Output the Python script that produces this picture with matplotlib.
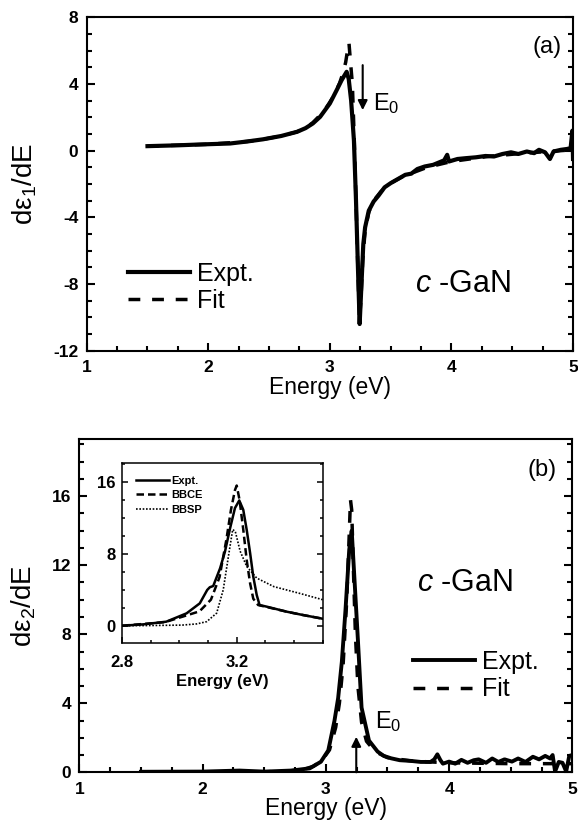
import matplotlib
matplotlib.use('Agg')
import matplotlib.pyplot as plt
from matplotlib.ticker import MultipleLocator

plt.rcParams['font.family'] = ['Liberation Sans', 'DejaVu Sans']
plt.rcParams['mathtext.fontset'] = 'custom'
plt.rcParams['mathtext.rm'] = 'Liberation Sans'
plt.rcParams['mathtext.it'] = 'Liberation Sans:italic'
plt.rcParams['mathtext.bf'] = 'Liberation Sans:bold'
plt.rcParams['axes.unicode_minus'] = False

# ---- panel (a): d eps1 / dE ----
e1_expt_E = [1.5, 1.75, 1.93, 2.18, 2.32, 2.45, 2.6, 2.73, 2.8, 2.86, 2.92, 3.0, 3.056,
             3.097, 3.138, 3.155, 3.175, 3.198, 3.215, 3.23, 3.245, 3.26, 3.275, 3.29,
             3.32, 3.36, 3.40, 3.45, 3.50, 3.56, 3.62, 3.67, 3.72, 3.78, 3.85, 3.90,
             3.94, 3.965, 3.98, 4.05, 4.12, 4.20, 4.28, 4.35, 4.42, 4.49, 4.55, 4.62,
             4.68, 4.72, 4.77, 4.81, 4.84, 4.90, 4.95, 4.98, 4.995, 5.0]
e1_expt = [0.27, 0.32, 0.37, 0.43, 0.55, 0.68, 0.88, 1.13, 1.35, 1.63, 2.03, 2.83, 3.63,
           4.23, 4.73, 4.3, 3.0, 0.6, -3.0, -6.8, -10.4, -8.0, -5.6, -4.6,
           -3.6, -3.05, -2.7, -2.2, -1.95, -1.7, -1.45, -1.38, -1.1, -0.95, -0.85, -0.7,
           -0.58, -0.25, -0.65, -0.5, -0.45, -0.4, -0.32, -0.35, -0.2, -0.1, -0.2, -0.05,
           -0.15, 0.05, -0.1, -0.5, -0.05, 0.05, 0.1, 0.15, 1.2, -0.5]

e1_fit_E = [1.5, 2.0, 2.32, 2.45, 2.6, 2.73, 2.8, 2.86, 2.95, 3.03, 3.08, 3.11, 3.13,
            3.145, 3.157, 3.17, 3.185, 3.2, 3.215, 3.23, 3.243, 3.255, 3.27, 3.29, 3.32,
            3.36, 3.42, 3.5, 3.6, 3.8, 4.0, 4.3, 4.6, 5.0]
e1_fit = [0.27, 0.38, 0.55, 0.68, 0.88, 1.13, 1.36, 1.68, 2.35, 3.25, 4.05, 4.7, 5.3,
          6.0, 6.47, 5.3, 4.0, 0.8, -3.0, -7.0, -10.2, -9.0, -6.6, -4.8, -3.7,
          -3.0, -2.45, -1.95, -1.55, -1.0, -0.65, -0.35, -0.15, 0.05]

# ---- panel (b): d eps2 / dE ----
e2_expt_E = [1.5, 2.0, 2.3, 2.5, 2.72, 2.87, 2.96, 3.02, 3.07, 3.10, 3.13, 3.16,
             3.19, 3.21, 3.23, 3.26, 3.29, 3.35, 3.42, 3.47, 3.53, 3.6, 3.69, 3.77,
             3.85, 3.88, 3.905, 3.93, 3.95, 4.0, 4.05, 4.1, 4.15, 4.2, 4.24, 4.3,
             4.35, 4.4, 4.45, 4.51, 4.56, 4.62, 4.68, 4.73, 4.78, 4.82, 4.84, 4.86,
             4.89, 4.92, 4.95, 4.975, 5.0]
e2_expt = [0.03, 0.04, 0.1, 0.04, 0.1, 0.23, 0.61, 1.27, 2.98, 4.3, 6.4, 9.45,
           12.9, 14.0, 11.5, 7.7, 3.75, 1.84, 1.2, 0.95, 0.81, 0.7, 0.66, 0.6,
           0.6, 0.75, 1.04, 0.7, 0.5, 0.62, 0.5, 0.72, 0.55, 0.7, 0.75, 0.55,
           0.8, 0.6, 0.75, 0.62, 0.8, 0.6, 0.9, 0.75, 0.95, 0.8, 1.0, 0.05,
           0.6, 0.55, 0.05, 0.95, 1.0]

e2_fit_E = [1.5, 2.5, 2.8, 2.9, 2.97, 3.03, 3.08, 3.11, 3.14, 3.17, 3.19, 3.2,
            3.21, 3.225, 3.24, 3.26, 3.29, 3.33, 3.4, 3.5, 3.7, 4.0, 4.5, 5.0]
e2_fit = [0.0, 0.02, 0.12, 0.35, 0.7, 1.3, 2.6, 4.0, 6.2, 10.0, 13.8, 15.8,
          15.2, 11.5, 8.0, 5.0, 2.9, 1.8, 1.2, 0.85, 0.65, 0.55, 0.5, 0.5]

# ---- inset ----
ins_expt_E = [2.8, 2.873, 2.954, 3.025, 3.071, 3.097, 3.106, 3.118, 3.142, 3.159,
              3.177, 3.194, 3.209, 3.223, 3.235, 3.247, 3.258, 3.27, 3.28, 3.305,
              3.375, 3.43, 3.5]
ins_expt = [0.0, 0.15, 0.45, 1.38, 2.49, 3.98, 4.28, 4.42, 6.39, 8.25,
            10.86, 13.1, 13.94, 12.9, 10.67, 8.07, 5.46, 3.42, 2.3, 2.12,
            1.56, 1.2, 0.78]

ins_bbce_E = [2.8, 2.95, 3.02, 3.07, 3.11, 3.14, 3.164, 3.18, 3.194, 3.2, 3.21,
              3.223, 3.235, 3.247, 3.258, 3.275, 3.3, 3.375, 3.43, 3.5]
ins_bbce = [0.0, 0.4, 1.1, 1.6, 2.9, 5.4, 9.6, 12.9, 15.1, 15.6, 14.0,
            10.7, 7.3, 4.7, 3.0, 2.3, 2.12, 1.56, 1.2, 0.78]

ins_bbsp_E = [2.8, 2.9, 3.01, 3.06, 3.095, 3.13, 3.153, 3.171, 3.186, 3.195,
              3.212, 3.235, 3.27, 3.33, 3.42, 3.5]
ins_bbsp = [0.0, 0.02, 0.07, 0.2, 0.45, 1.4, 4.0, 7.7, 10.7, 10.5,
            8.3, 6.6, 5.3, 4.35, 3.6, 2.9]

BLACK = 'k'


def style_axes(ax, xmajor, xminor, ymajor, yminor, size, pad_x, pad_y, lw):
    ax.xaxis.set_major_locator(MultipleLocator(xmajor))
    ax.xaxis.set_minor_locator(MultipleLocator(xminor))
    ax.yaxis.set_major_locator(MultipleLocator(ymajor))
    ax.yaxis.set_minor_locator(MultipleLocator(yminor))
    ax.tick_params(which='both', direction='in', right=True, top=False, width=lw)
    ax.tick_params(which='major', length=6)
    ax.tick_params(which='minor', length=3.5)
    ax.tick_params(axis='x', labelsize=size, pad=pad_x)
    ax.tick_params(axis='y', labelsize=size, pad=pad_y)
    for s in ax.spines.values():
        s.set_linewidth(lw)
    plt.setp(ax.get_xticklabels(), fontweight='bold')
    plt.setp(ax.get_yticklabels(), fontweight='bold')


fig = plt.figure(figsize=(5.78, 8.35), dpi=100)

# panel (a)
ax1 = fig.add_axes([0.150, 0.580, 0.8414, 0.3993])
ax1.plot(e1_expt_E, e1_expt, color=BLACK, lw=3.0, label='Expt.')
ax1.plot(e1_fit_E, e1_fit, color=BLACK, lw=2.5, dashes=(3.4, 3.4), label='Fit')
ax1.set_xlim(1, 5)
ax1.set_ylim(-12, 8)
style_axes(ax1, 1, 0.25, 4, 1, 12.5, 7, 6, 1.5)
ax1.set_xlabel('Energy (eV)', fontsize=16.5)
ax1.xaxis.set_label_coords(0.5, -0.075)
ax1.set_ylabel('dε$_1$/dE', fontsize=20)
ax1.yaxis.set_label_coords(-0.098, 0.5)
ax1.legend(loc='center left', bbox_to_anchor=(0.085, 0.19), frameon=False,
           fontsize=18, handlelength=2.48, handletextpad=0.27, labelspacing=0.12,
           borderpad=0, borderaxespad=0)
ax1.annotate('', xy=(3.27, 2.43), xytext=(3.27, 5.13),
             arrowprops=dict(arrowstyle='-|>', color=BLACK, lw=1.5,
                             mutation_scale=14, shrinkA=0, shrinkB=0))
ax1.text(3.357, 2.85, 'E$_0$', fontsize=17, ha='left', va='center')
ax1.text(0.774, 0.2, '$c$ -GaN', fontsize=22, ha='center', va='center',
         transform=ax1.transAxes)
ax1.text(0.9475, 0.912, '(a)', fontsize=17, ha='center', va='center',
         transform=ax1.transAxes)

# panel (b)
ax2 = fig.add_axes([0.1372, 0.0751, 0.853, 0.3988])
ax2.plot(e2_expt_E, e2_expt, color=BLACK, lw=2.8, label='Expt.')
ax2.plot(e2_fit_E, e2_fit, color=BLACK, lw=2.5, dashes=(3.4, 3.4), label='Fit')
ax2.set_xlim(1, 5)
ax2.set_ylim(0, 19.3)
style_axes(ax2, 1, 0.25, 4, 1, 12.5, 7, 6, 1.5)
ax2.set_xlabel('Energy (eV)', fontsize=16.5)
ax2.xaxis.set_label_coords(0.5, -0.075)
ax2.set_ylabel('dε$_2$/dE', fontsize=20)
ax2.yaxis.set_label_coords(-0.084, 0.5)
ax2.legend(loc='center left', bbox_to_anchor=(0.677, 0.291), frameon=False,
           fontsize=18, handlelength=2.48, handletextpad=0.27, labelspacing=0.15,
           borderpad=0, borderaxespad=0)
ax2.annotate('', xy=(3.247, 2.06), xytext=(3.247, 0),
             arrowprops=dict(arrowstyle='-|>', color=BLACK, lw=1.5,
                             mutation_scale=14, shrinkA=0, shrinkB=0))
ax2.text(3.40, 2.93, 'E$_0$', fontsize=17, ha='left', va='center')
ax2.text(0.7815, 0.568, '$c$ -GaN', fontsize=22, ha='center', va='center',
         transform=ax2.transAxes)
ax2.text(0.9376, 0.908, '(b)', fontsize=17, ha='center', va='center',
         transform=ax2.transAxes)

# inset
ax3 = fig.add_axes([0.2115, 0.2302, 0.3465, 0.2152])
ax3.plot(ins_expt_E, ins_expt, color=BLACK, lw=1.8, label='Expt.')
ax3.plot(ins_bbce_E, ins_bbce, color=BLACK, lw=1.8, dashes=(3.0, 1.6), label='BBCE')
ax3.plot(ins_bbsp_E, ins_bbsp, color=BLACK, lw=1.2, dashes=(1.0, 1.0), label='BBSP')
ax3.set_xlim(2.8, 3.5)
ax3.set_ylim(-1.9, 18.1)
style_axes(ax3, 0.4, 0.1, 8, 2, 12, 9, 4.5, 1.1)
ax3.tick_params(which='major', length=4.5)
ax3.tick_params(which='minor', length=2.5)
ax3.set_xlabel('Energy (eV)', fontsize=12, fontweight='bold', labelpad=3)
ax3.legend(loc='upper left', bbox_to_anchor=(0.067, 0.93), frameon=False,
           prop={'size': 8, 'weight': 'bold'}, handlelength=3.0,
           handletextpad=0.2, labelspacing=0.42, borderpad=0, borderaxespad=0)

fig.savefig('out.png', dpi=100)
